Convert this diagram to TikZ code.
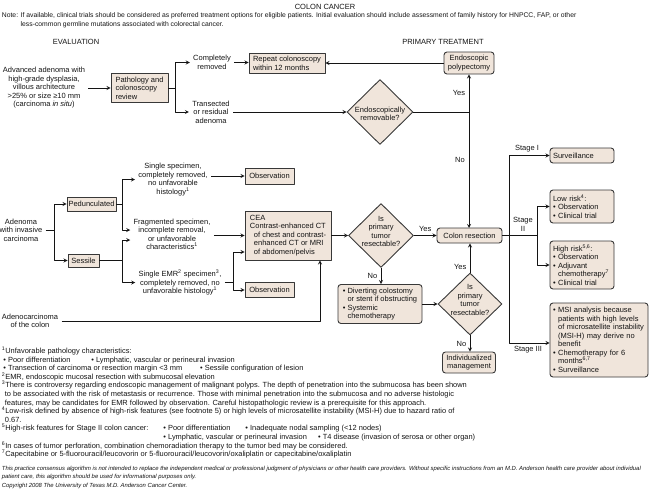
\documentclass[tikz,border=0pt]{standalone}
\usepackage{fontspec}
\setmainfont{Liberation Sans}
\usetikzlibrary{shapes.geometric,calc}
\definecolor{boxfill}{HTML}{F0E5DB}
\definecolor{boxline}{HTML}{383838}
\definecolor{ink}{HTML}{141414}
\newcommand{\fsz}[2]{\fontsize{#1}{#2}\selectfont}
\tikzset{
  evalbox/.style={draw=boxline, fill=boxfill, line width=0.9pt, inner xsep=3pt, inner ysep=1.5pt, align=left},
  treatbox/.style={evalbox, rounded corners=3pt},
  decision/.style={diamond, draw=boxline, fill=boxfill, line width=0.9pt, inner sep=0pt},
  txt/.style={align=center, inner sep=3pt},
}
\begin{document}
\begin{tikzpicture}[x=1pt, y=-1pt, font=\fsz{7.5}{8.5}, line width=0.8pt, line join=round, >=stealth, color=ink]
\useasboundingbox (0,0) rectangle (650,490);
% headings
\path
(325,7) node (title) {COLON CANCER}
(76,42) node (evalhead) {EVALUATION}
(443,42) node (treathead) {PRIMARY TREATMENT};
\node[anchor=north west, align=left, inner sep=0pt, font=\fsz{6.8}{8.6}] (note) at (1.5,12.2)
{Note: If available, clinical trials should be considered as preferred treatment options for eligible patients. Initial evaluation should include assessment of family history for HNPCC, FAP, or other\\
\phantom{Note: }less-common germline mutations associated with colorectal cancer.};
% advanced adenoma
\node[txt] (adv) at (44,88) {Advanced adenoma with\\high-grade dysplasia,\\villous architecture\\>25\% or size ≥10 mm\\(carcinoma \textit{in situ})};
\node[evalbox, minimum width=57pt, minimum height=29pt] (patho) at (139.5,88) {Pathology and\\colonoscopy\\review};
\node[txt] (compl) at (212,62.5) {Completely\\removed};
\node[txt] (trans) at (211,112) {Transected\\or residual\\adenoma};
\node[evalbox, minimum width=76pt, minimum height=20pt] (repeat) at (287,63.5) {Repeat colonoscopy\\within 12 months};
\node[decision, minimum width=66pt, minimum height=65pt, label={[align=center, yshift=-2pt]center:Endoscopically\\removable?}] (endo) at (380,112) {};
\node[treatbox, align=center, minimum width=50pt, minimum height=22pt] (polyp) at (469,63) {Endoscopic\\polypectomy};
\coordinate (fork) at (469,112);
\draw[->] (adv) -- (patho);
\draw (patho.east) -- ++(7,0) coordinate (b1);
\draw[->] (b1) |- (compl.west);
\draw[->] (b1) |- (trans.west);
\draw[->] (compl.east) -- (compl.east -| repeat.west);
\draw[->] (trans) -- (endo);
\draw[->] (polyp.west) -- (polyp.west -| repeat.east);
\draw (endo.east) -- (fork);
\draw[->] (fork) -- (polyp.south);
\draw[->] (fork) -- (fork |- 0,228);
% adenoma with invasive carcinoma
\node[txt] (adenoma) at (21,230) {Adenoma\\with invasive\\carcinoma};
\node[evalbox, minimum width=49pt, minimum height=14pt, inner xsep=1.5pt] (ped) at (91.5,204) {Pedunculated};
\node[evalbox, minimum width=31pt, minimum height=13pt] (sess) at (83.5,260.5) {Sessile};
\node[txt] (single) at (173,179.5) {Single specimen,\\completely removed,\\no unfavorable\\histology\textsuperscript{1}};
\node[txt] (frag) at (172,234.5) {Fragmented specimen,\\incomplete removal,\\or unfavorable\\characteristics\textsuperscript{1}};
\node[txt] (emr) at (180,282.5) {Single EMR\textsuperscript{2} specimen\textsuperscript{3},\\completely removed, no\\unfavorable histology\textsuperscript{1}};
\node[evalbox, minimum width=49pt, minimum height=16pt] (obs1) at (269.5,176) {Observation};
\node[evalbox, minimum width=49pt, minimum height=15pt] (obs2) at (269.5,290) {Observation};
\node[evalbox, minimum width=86pt, minimum height=49pt] (cea) at (288,235.5) {CEA\\Contrast-enhanced CT\\\hspace*{4pt}of chest and contrast-\\\hspace*{4pt}enhanced CT or MRI\\\hspace*{4pt}of abdomen/pelvis};
\node[txt] (adeno) at (30,321) {Adenocarcinoma\\of the colon};
\coordinate (b4) at (54,230);
\coordinate (b5) at (122,204);
\coordinate (b6) at (122,260.5);
\coordinate (b7) at (233,282.5);
\draw (adenoma.east) -- (b4);
\draw[->] (b4) |- (ped.west);
\draw[->] (b4) |- (sess.west);
\draw (ped.east) -- (b5);
\draw[->] (b5) |- (single.west);
\draw[->] (b5) |- ($(frag.west)+(0,-4.5)$);
\draw (sess.east) -- (b6);
\draw[->] (b6) |- ($(frag.west)+(0,5.5)$);
\draw[->] (b6) |- (emr.west);
\draw[->] (single.east |- obs1.west) -- (obs1.west);
\draw[->] (frag.east |- cea.west) -- (cea.west);
\draw (emr.east) -- (b7);
\draw[->] (b7) |- ($(cea.west)+(0,16.5)$);
\draw[->] (b7) |- (obs2.west);
\draw[->] (adeno.east) -| ($(cea.south)+(32,0)$);
% primary treatment
\node[decision, minimum width=65pt, minimum height=64pt, label={[align=center, yshift=4pt]center:Is\\primary\\tumor\\resectable?}] (dec1) at (381,235.5) {};
\node[treatbox, align=center, minimum width=65pt, minimum height=15pt] (colres) at (469.5,235.5) {Colon resection};
\node[treatbox, minimum width=84pt, minimum height=39pt] (divert) at (380,304) {• Diverting colostomy\\\phantom{• }or stent if obstructing\\• Systemic\\\phantom{• }chemotherapy};
\node[decision, minimum width=64pt, minimum height=62pt, label={[align=center, yshift=4pt]center:Is\\primary\\tumor\\resectable?}] (dec2) at (470,304) {};
\node[treatbox, align=center, minimum width=53pt, minimum height=21pt] (indiv) at (469,362.5) {Individualized\\management};
\draw[->] (cea) -- (dec1);
\draw[->] (dec1) -- (colres) node[midway, above] (yes2) {Yes};
\draw[->] (dec1.south) -- (dec1.south |- divert.north) node[midway, left] (no2) {No};
\draw[->] (divert) -- (dec2);
\draw[->] (dec2.north) -- (dec2.north |- colres.south) node[pos=0.2, left] (yes3) {Yes};
\draw[->] (dec2.south) -- (dec2.south |- indiv.north) node[midway, left] (no3) {No};
\path
(459,93) node (yes1) {Yes}
(460,160) node (no1) {No};
% staging
\node[treatbox, text width=58pt, minimum height=15pt] (surv) at (582,155.5) {Surveillance};
\node[treatbox, text width=58pt, minimum height=33pt] (lowrisk) at (582,206.5) {Low risk\textsuperscript{4}:\\• Observation\\• Clinical trial};
\node[treatbox, text width=58pt, minimum height=48pt] (highrisk) at (582,265) {High risk\textsuperscript{5,6}:\\• Observation\\• Adjuvant\\\phantom{• }chemotherapy\textsuperscript{7}\\• Clinical trial};
\node[treatbox, text width=92pt, minimum height=74pt] (msi) at (599,340) {• MSI analysis because\\\phantom{• }patients with high levels\\\phantom{• }of microsatellite instability\\\phantom{• }(MSI-H) may derive no\\\phantom{• }benefit\\• Chemotherapy for 6\\\phantom{• }months\textsuperscript{6,7}\\• Surveillance};
\coordinate (b2) at (509,235.5);
\coordinate (b3) at (537,235.5);
\draw (colres.east) -- (b3);
\draw[->] (b2) |- (surv.west);
\draw[->] (b2) |- ($(msi.west)+(0,3)$);
\draw[->] (b3) |- (lowrisk.west);
\draw[->] (b3) |- (highrisk.west);
\path
(527,149) node (st1) {Stage I}
(523,224.5) node[align=center] (st2) {Stage\\II}
(528,350) node (st3) {Stage III};
% footnotes
\node[anchor=north west, align=left, inner sep=0pt, font=\fsz{7.45}{8.6}] (foot) at (1.5,346.5)
{\textsuperscript{1}Unfavorable pathology characteristics:\\
\hspace*{1.5pt}• Poor differentiation\hspace{2.8em}• Lymphatic, vascular or perineural invasion\\
\hspace*{1.5pt}• Transection of carcinoma or resection margin <3 mm\hspace{2.4em}• Sessile configuration of lesion\\
\textsuperscript{2}EMR, endoscopic mucosal resection with submucosal elevation\\
\textsuperscript{3}There is controversy regarding endoscopic management of malignant polyps. The depth of penetration into the submucosa has been shown\\
\hspace*{3pt}to be associated with the risk of metastasis or recurrence. Those with minimal penetration into the submucosa and no adverse histologic\\
\hspace*{3pt}features, may be candidates for EMR followed by observation. Careful histopathologic review is a prerequisite for this approach.\\
\textsuperscript{4}Low-risk defined by absence of high-risk features (see footnote 5) or high levels of microsatellite instability (MSI-H) due to hazard ratio of\\
\hspace*{3pt}0.67.\\
\textsuperscript{5}High-risk features for Stage II colon cancer:\hspace{2em}• Poor differentiation\hspace{2em}• Inadequate nodal sampling (<12 nodes)\\
\phantom{\textsuperscript{5}High-risk features for Stage II colon cancer:}\hspace*{2em}• Lymphatic, vascular or perineural invasion\hspace{1.5em}• T4 disease (invasion of serosa or other organ)\\
\textsuperscript{6}In cases of tumor perforation, combination chemoradiation therapy to the tumor bed may be considered.\\
\textsuperscript{7}Capecitabine or 5-fluorouracil/leucovorin or 5-fluorouracil/leucovorin/oxaliplatin or capecitabine/oxaliplatin};
\node[anchor=north west, align=left, inner sep=0pt, font=\fsz{5.9}{7.8}\itshape] (discl) at (1.5,466)
{This practice consensus algorithm is not intended to replace the independent medical or professional judgment of physicians or other health care providers. Without specific instructions from an M.D. Anderson health care provider about individual\\
patient care, this algorithm should be used for informational purposes only.};
\node[anchor=north west, inner sep=0pt, font=\fsz{5.9}{7.8}\itshape] (copyr) at (1.5,482.5)
{Copyright 2008 The University of Texas M.D. Anderson Cancer Center.};
\end{tikzpicture}
\end{document}
